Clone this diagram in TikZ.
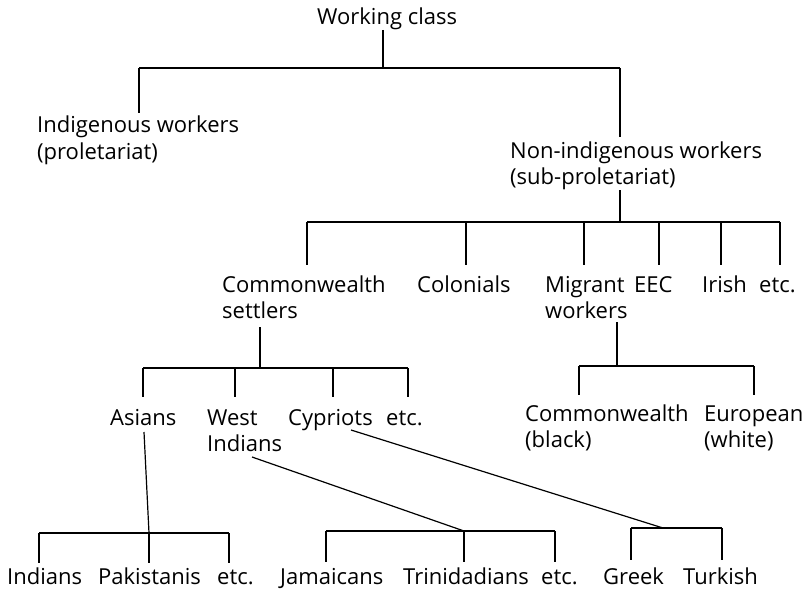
\documentclass[tikz,border=0pt]{standalone}
\usepackage{fontspec}
\setmainfont{Open Sans}
\begin{document}
\begin{tikzpicture}[x=1pt,y=-1pt,
  lbl/.style={anchor=base west, inner sep=0pt, font=\fontsize{22}{26}\selectfont},
  conn/.style={line width=1.2pt, black}]
\useasboundingbox (0,0) rectangle (811,591);
\newcommand{\two}[2]{\begin{tabular}[t]{@{}l@{}}#1\\#2\end{tabular}}
% level 0
\node[lbl] (root) at (317,25) {Working class};
% level 1
\node[lbl] (indig) at (37,133) {\two{Indigenous workers}{(proletariat)}};
\node[lbl] (nonind) at (510,158) {\two{Non-indigenous workers}{(sub-proletariat)}};
% level 2
\node[lbl] (cws) at (222,292) {\two{Commonwealth}{settlers}};
\node[lbl] (colon) at (417,292) {Colonials};
\node[lbl] (migr) at (545,292) {\two{Migrant}{workers}};
\node[lbl] (eec) at (634,292) {EEC};
\node[lbl] (irish) at (702,292) {Irish};
\node[lbl] (etcA) at (759,292) {etc.};
% level 3
\node[lbl] (asians) at (110,425) {Asians};
\node[lbl] (wind) at (207,425) {\two{West}{Indians}};
\node[lbl] (cyp) at (288,425) {Cypriots};
\node[lbl] (etcB) at (386,425) {etc.};
\node[lbl] (cwb) at (525,421) {\two{Commonwealth}{(black)}};
\node[lbl] (euro) at (704,421) {\two{European}{(white)}};
% level 4
\node[lbl] (ind) at (7,584) {Indians};
\node[lbl] (pak) at (98,584) {Pakistanis};
\node[lbl] (etcC) at (217,584) {etc.};
\node[lbl] (jam) at (280,584) {Jamaicans};
\node[lbl] (trin) at (403,584) {Trinidadians};
\node[lbl] (etcD) at (541,584) {etc.};
\node[lbl] (greek) at (603,584) {Greek};
\node[lbl] (turk) at (683,584) {Turkish};
% junction coordinates
\coordinate (j0) at (383,68);
\coordinate (j0a) at (139,68);
\coordinate (j0b) at (620,68);
\coordinate (j1) at (620,222);
\coordinate (j1a) at (307,222);
\coordinate (j1b) at (466,222);
\coordinate (j1c) at (584,222);
\coordinate (j1d) at (659,222);
\coordinate (j1e) at (721,222);
\coordinate (j1f) at (780,222);
\coordinate (j2) at (260,368);
\coordinate (j2a) at (143,368);
\coordinate (j2b) at (235,368);
\coordinate (j2c) at (333,368);
\coordinate (j2d) at (408,368);
\coordinate (j3) at (617,366);
\coordinate (j3a) at (579,366);
\coordinate (j3b) at (754,366);
\coordinate (j4) at (149,533);
\coordinate (j4a) at (39,533);
\coordinate (j4c) at (229,533);
\coordinate (j5) at (464,531);
\coordinate (j5a) at (326,531);
\coordinate (j5c) at (555,531);
\coordinate (j6) at (663,528);
\coordinate (j6a) at (631,528);
\coordinate (j6b) at (722,528);
% connectors
\draw[conn] (j0 |- 0,30) -- (j0);
\draw[conn] (j0a) -- (j0b);
\draw[conn] (j0a) -- (139,113);
\draw[conn] (j0b) -- (620,137);
\draw[conn] (620,190) -- (j1);
\draw[conn] (j1a) -- (j1f);
\foreach \c in {j1a,j1b,j1c,j1d,j1e,j1f} \draw[conn] (\c) -- ++(0,43);
\draw[conn] (260,327) -- (j2);
\draw[conn] (j2a) -- (j2d);
\foreach \c in {j2a,j2b,j2c,j2d} \draw[conn] (\c) -- ++(0,29);
\draw[conn] (617,322) -- (j3);
\draw[conn] (j3a) -- (j3b);
\foreach \c in {j3a,j3b} \draw[conn] (\c) -- ++(0,29);
\draw[conn] (144,432) -- (j4);
\draw[conn] (j4a) -- (j4c);
\foreach \c in {j4a,j4,j4c} \draw[conn] (\c) -- ++(0,30);
\draw[conn] (252,457) -- (j5);
\draw[conn] (j5a) -- (j5c);
\foreach \c in {j5a,j5,j5c} \draw[conn] (\c) -- ++(0,31);
\draw[conn] (351,430) -- (j6);
\draw[conn] (j6a) -- (j6b);
\foreach \c in {j6a,j6b} \draw[conn] (\c) -- ++(0,32);
\end{tikzpicture}
\end{document}
